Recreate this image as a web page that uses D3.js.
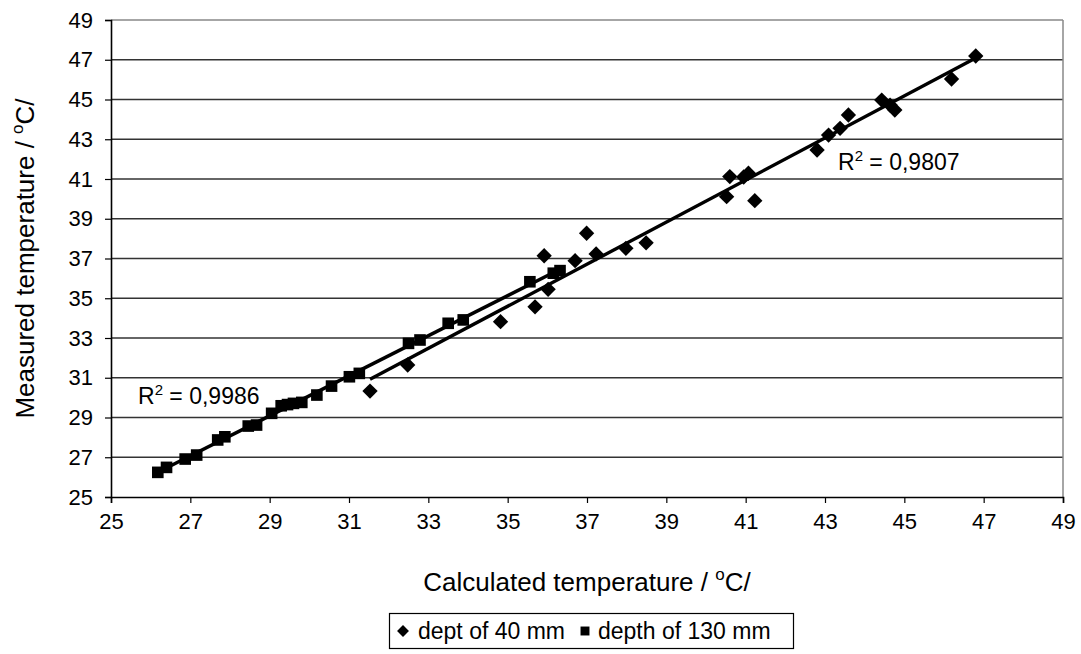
<!DOCTYPE html>
<html>
  <head>
    <script type="text/javascript" src="https://d3js.org/d3.v7.min.js"></script>
    <style>
      body { margin: 0; background: #fff; }
      text { font-family: Arial, "Liberation Sans", sans-serif; fill: #000; }
    </style>
  </head>
  <body>
  </body>
  <script>

  // depth of 40 mm (diamonds): calculated, measured
  var calc40 = [31.53, 32.48, 34.82, 35.69, 35.92, 36.02, 36.70, 36.99, 37.23, 37.98, 38.49,
                40.52, 40.60, 40.95, 41.07, 41.23, 42.80, 43.09, 43.38, 43.59, 44.43, 44.64,
                44.76, 46.19, 46.80];
  var meas40 = [30.33, 31.64, 33.82, 34.57, 37.14, 35.45, 36.89, 38.27, 37.23, 37.51, 37.79,
                40.11, 41.12, 41.10, 41.29, 39.91, 42.46, 43.21, 43.55, 44.22, 44.97, 44.72,
                44.47, 46.03, 47.19];

  // depth of 130 mm (squares)
  var calc130 = [26.18, 26.40, 26.87, 27.16, 27.69, 27.87, 28.46, 28.67, 29.05, 29.29, 29.45,
                 29.60, 29.81, 30.19, 30.56, 31.01, 31.26, 32.50, 32.79, 33.50, 33.88, 35.56,
                 36.15, 36.32];
  var meas130 = [26.24, 26.49, 26.91, 27.11, 27.87, 28.03, 28.57, 28.62, 29.21, 29.59, 29.65,
                 29.71, 29.76, 30.13, 30.58, 31.05, 31.22, 32.73, 32.90, 33.74, 33.91, 35.83,
                 36.26, 36.39];

  var ticks = [25, 27, 29, 31, 33, 35, 37, 39, 41, 43, 45, 47, 49];
  var seriesNames = ["dept of 40 mm", "depth of 130 mm"];
  var r2Labels = ["0,9807", "0,9986"];

  var width = 1081, height = 654;
  var plotL = 111, plotR = 1063, plotT = 20, plotB = 497;

  var svg = d3.select("body").append("svg")
              .attr("width", width)
              .attr("height", height);

  var x = d3.scaleLinear().domain([25, 49]).range([plotL, plotR]);
  var y = d3.scaleLinear().domain([25, 49]).range([plotB, plotT]);

  // grid lines
  svg.selectAll("line.grid")
     .data(ticks.slice(1))
     .enter()
     .append("line")
     .attr("class", "grid")
     .attr("x1", plotL).attr("x2", plotR)
     .attr("y1", function(d) { return y(d); })
     .attr("y2", function(d) { return y(d); })
     .style("stroke", function(d) { return d === 49 ? "#888" : "#333"; })
     .style("stroke-width", 1.3);

  // right border
  svg.append("line")
     .attr("x1", plotR).attr("x2", plotR)
     .attr("y1", plotT).attr("y2", plotB)
     .style("stroke", "#888").style("stroke-width", 1.5);

  // axes
  var xAxis = svg.append("g")
     .attr("transform", "translate(0," + plotB + ")")
     .call(d3.axisBottom(x).tickValues(ticks).tickSize(6).tickPadding(10));
  var yAxis = svg.append("g")
     .attr("transform", "translate(" + plotL + ",0)")
     .call(d3.axisLeft(y).tickValues(ticks).tickSize(6).tickPadding(12));

  [xAxis, yAxis].forEach(function(a) {
    a.select(".domain").style("stroke", "#000").style("stroke-width", 1.6);
    a.selectAll(".tick line").style("stroke", "#000").style("stroke-width", 1.2);
    a.selectAll(".tick text").style("font-size", "22px")
     .style("font-family", "Arial, 'Liberation Sans', sans-serif");
  });

  // regression lines
  function fit(xs, ys) {
    var n = xs.length, mx = d3.mean(xs), my = d3.mean(ys);
    var sxy = 0, sxx = 0;
    for (var i = 0; i < n; i++) {
      sxy += (xs[i] - mx) * (ys[i] - my);
      sxx += (xs[i] - mx) * (xs[i] - mx);
    }
    var b = sxy / sxx;
    return { a: my - b * mx, b: b, x0: d3.min(xs), x1: d3.max(xs) };
  }

  [fit(calc40, meas40), fit(calc130, meas130)].forEach(function(f) {
    svg.append("line")
       .attr("x1", x(f.x0)).attr("y1", y(f.a + f.b * f.x0))
       .attr("x2", x(f.x1)).attr("y2", y(f.a + f.b * f.x1))
       .style("stroke", "#000").style("stroke-width", 3.4);
  });

  var diamond = d3.symbol().type(d3.symbolDiamond2).size(150);
  var square = d3.symbol().type(d3.symbolSquare).size(135);

  svg.selectAll("path.p40")
     .data(d3.range(calc40.length))
     .enter()
     .append("path")
     .attr("class", "p40")
     .attr("d", diamond)
     .attr("transform", function(i) { return "translate(" + x(calc40[i]) + "," + y(meas40[i]) + ")"; })
     .style("fill", "#000");

  svg.selectAll("path.p130")
     .data(d3.range(calc130.length))
     .enter()
     .append("path")
     .attr("class", "p130")
     .attr("d", square)
     .attr("transform", function(i) { return "translate(" + x(calc130[i]) + "," + y(meas130[i]) + ")"; })
     .style("fill", "#000");

  // R2 labels
  function r2(px, py, val) {
    var t = svg.append("text").attr("x", px).attr("y", py).style("font-size", "23px");
    t.append("tspan").text("R");
    t.append("tspan").attr("dy", -9).style("font-size", "15px").text("2");
    t.append("tspan").attr("dy", 9).text(" =  " + val);
  }
  r2(838, 170, r2Labels[0]);
  r2(138, 404, r2Labels[1]);

  // axis titles
  function title(sel, label) {
    sel.append("tspan").text(label + " / ");
    sel.append("tspan").attr("dy", -11).style("font-size", "17px").text("o");
    sel.append("tspan").attr("dy", 11).text("C/");
  }
  var xt = svg.append("text")
     .attr("x", (plotL + plotR) / 2).attr("y", 591)
     .attr("text-anchor", "middle").style("font-size", "26px");
  title(xt, "Calculated temperature");

  var yt = svg.append("text")
     .attr("transform", "translate(34," + ((plotT + plotB) / 2) + ") rotate(-90)")
     .attr("text-anchor", "middle").style("font-size", "26px");
  title(yt, "Measured temperature");

  // legend
  var lg = svg.append("g");
  lg.append("rect")
    .attr("x", 389.5).attr("y", 613.5).attr("width", 404).attr("height", 35)
    .style("fill", "#fff").style("stroke", "#000").style("stroke-width", 1.2);
  lg.append("path").attr("d", d3.symbol().type(d3.symbolDiamond2).size(90))
    .attr("transform", "translate(403,631)");
  lg.append("text").attr("x", 418).attr("y", 639).style("font-size", "23px").text(seriesNames[0]);
  lg.append("path").attr("d", d3.symbol().type(d3.symbolSquare).size(80))
    .attr("transform", "translate(585,631)");
  lg.append("text").attr("x", 598).attr("y", 639).style("font-size", "23px").text(seriesNames[1]);

  </script>
</html>
